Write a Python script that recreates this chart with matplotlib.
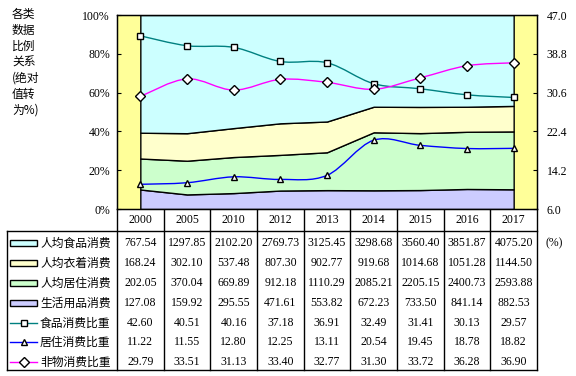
import matplotlib
matplotlib.use('Agg')
import matplotlib.pyplot as plt
from matplotlib.path import Path
from matplotlib.patches import PathPatch, Rectangle
from matplotlib.transforms import blended_transform_factory
import numpy as np

years = ['2000', '2005', '2010', '2012', '2013', '2014', '2015', '2016', '2017']
food = [767.54, 1297.85, 2102.20, 2769.73, 3125.45, 3298.68, 3560.40, 3851.87, 4075.20]
clothes = [168.24, 302.10, 537.48, 807.30, 902.77, 919.68, 1014.68, 1051.28, 1144.50]
housing = [202.05, 370.04, 669.89, 912.18, 1110.29, 2085.21, 2205.15, 2400.73, 2593.88]
goods = [127.08, 159.92, 295.55, 471.61, 553.82, 672.23, 733.50, 841.14, 882.53]
food_ratio = [42.60, 40.51, 40.16, 37.18, 36.91, 32.49, 31.41, 30.13, 29.57]
house_ratio = [11.22, 11.55, 12.80, 12.25, 13.11, 20.54, 19.45, 18.78, 18.82]
nonmat_ratio = [29.79, 33.51, 31.13, 33.40, 32.77, 31.30, 33.72, 36.28, 36.90]

area_names = ['人均食品消费', '人均衣着消费', '人均居住消费', '生活用品消费']
line_names = ['食品消费比重', '居住消费比重', '非物消费比重']
area_colors = ['#CCFFFF', '#FFFFCC', '#CCFFCC', '#CCCCFF']
line_colors = ['#008080', '#0000FF', '#FF00FF']
line_markers = ['s', '^', 'D']
marker_sizes = [4.5, 5, 5]

SERIF = ['Liberation Serif', 'Noto Sans CJK SC']
CJK = ['Noto Sans CJK SC', 'DejaVu Sans']
FS = 8.5

fig = plt.figure(figsize=(5.76, 3.76), dpi=100)
W, H = 576, 376
ax = fig.add_axes([117 / W, 1 - 209 / H, 420 / W, 194 / H])
ax.set_facecolor('#FFFF99')

x = np.arange(len(years))
tot = np.array(food) + np.array(clothes) + np.array(housing) + np.array(goods)
stack = [np.array(goods) / tot * 100, np.array(housing) / tot * 100,
         np.array(clothes) / tot * 100, np.array(food) / tot * 100]
ax.stackplot(x, *stack, colors=area_colors[::-1], edgecolor='black', linewidth=1)
ax.set_xlim(-0.5, len(years) - 0.5)
ax.set_ylim(0, 100)
ax.set_yticks(np.arange(0, 101, 20))
ax.set_yticklabels(['%d%%' % v for v in range(0, 101, 20)], family=SERIF, fontsize=FS)
ax.set_xticks([])
ax.tick_params(axis='y', direction='in', length=3, pad=5)
for s in ax.spines.values():
    s.set_linewidth(1)

ax2 = ax.twinx()
ax2.set_ylim(6.0, 47.0)
rt = np.arange(6.0, 47.01, 8.2)
ax2.set_yticks(rt)
ax2.set_yticklabels(['%.1f' % v for v in rt], family=SERIF, fontsize=FS)
ax2.tick_params(axis='y', direction='in', length=3, pad=7)


def smooth_path(xs, ys):
    pts = np.column_stack([xs, ys]).astype(float)
    n = len(pts)
    verts = [pts[0]]
    codes = [Path.MOVETO]
    for i in range(n - 1):
        p0 = pts[i - 1] if i > 0 else pts[i]
        p1 = pts[i]
        p2 = pts[i + 1]
        p3 = pts[i + 2] if i + 2 < n else pts[i + 1]
        verts += [p1 + (p2 - p0) / 6, p2 - (p3 - p1) / 6, p2]
        codes += [Path.CURVE4] * 3
    return Path(verts, codes)


for vals, c, m, ms in zip([food_ratio, house_ratio, nonmat_ratio], line_colors, line_markers, marker_sizes):
    ax2.add_patch(PathPatch(smooth_path(x, vals), facecolor='none', edgecolor=c, lw=1))
    ax2.plot(x, vals, ls='none', marker=m, ms=ms, mfc='white', mec='black', mew=1, zorder=5)

# y label
fig.text(12 / W, 1 - 8 / H, '各类\n数据\n比例\n关系\n(绝对\n值转\n为%)', family=CJK, fontsize=FS,
         va='top', ha='left', linespacing=1.3)

# data table
tab = fig.add_axes([0, 0, 1, 1], zorder=-1)
tab.set_xlim(0, W)
tab.set_ylim(H, 0)
tab.axis('off')
tr = blended_transform_factory(ax.transData, tab.transData)

tab.plot([7, 537], [231, 231], color='black', lw=1)
tab.plot([7, 537], [370, 370], color='black', lw=1)
tab.plot([7, 7], [231, 370], color='black', lw=1)
tab.plot([117, 117], [209, 370], color='black', lw=1)
for i in range(len(years)):
    tab.plot([i + 0.5, i + 0.5], [209, 370], color='black', lw=1, transform=tr)
    tab.text(i, 220, years[i], transform=tr, ha='center', va='center', family=SERIF, fontsize=FS)

row_y = [243, 263, 283, 303, 323, 342, 362]
rows = [food, clothes, housing, goods, food_ratio, house_ratio, nonmat_ratio]
names = area_names + line_names
for r, (yy, vals, nm) in enumerate(zip(row_y, rows, names)):
    for i, v in enumerate(vals):
        tab.text(i, yy, '%.2f' % v, transform=tr, ha='center', va='center', family=SERIF, fontsize=FS)
    tab.text(40, yy, nm, ha='left', va='center', family=CJK, fontsize=FS)
    if r < 4:
        tab.add_patch(Rectangle((10, yy - 3), 27, 6, facecolor=area_colors[r], edgecolor='black', lw=1))
    else:
        k = r - 4
        tab.plot([10, 37], [yy, yy], color=line_colors[k], lw=1)
        tab.plot([23.5], [yy], ls='none', marker=line_markers[k], ms=marker_sizes[k],
                 mfc='white', mec='black', mew=1)

tab.text(545, 243, '(%)', ha='left', va='center', family=SERIF, fontsize=FS)

fig.savefig('out.png', dpi=100)
